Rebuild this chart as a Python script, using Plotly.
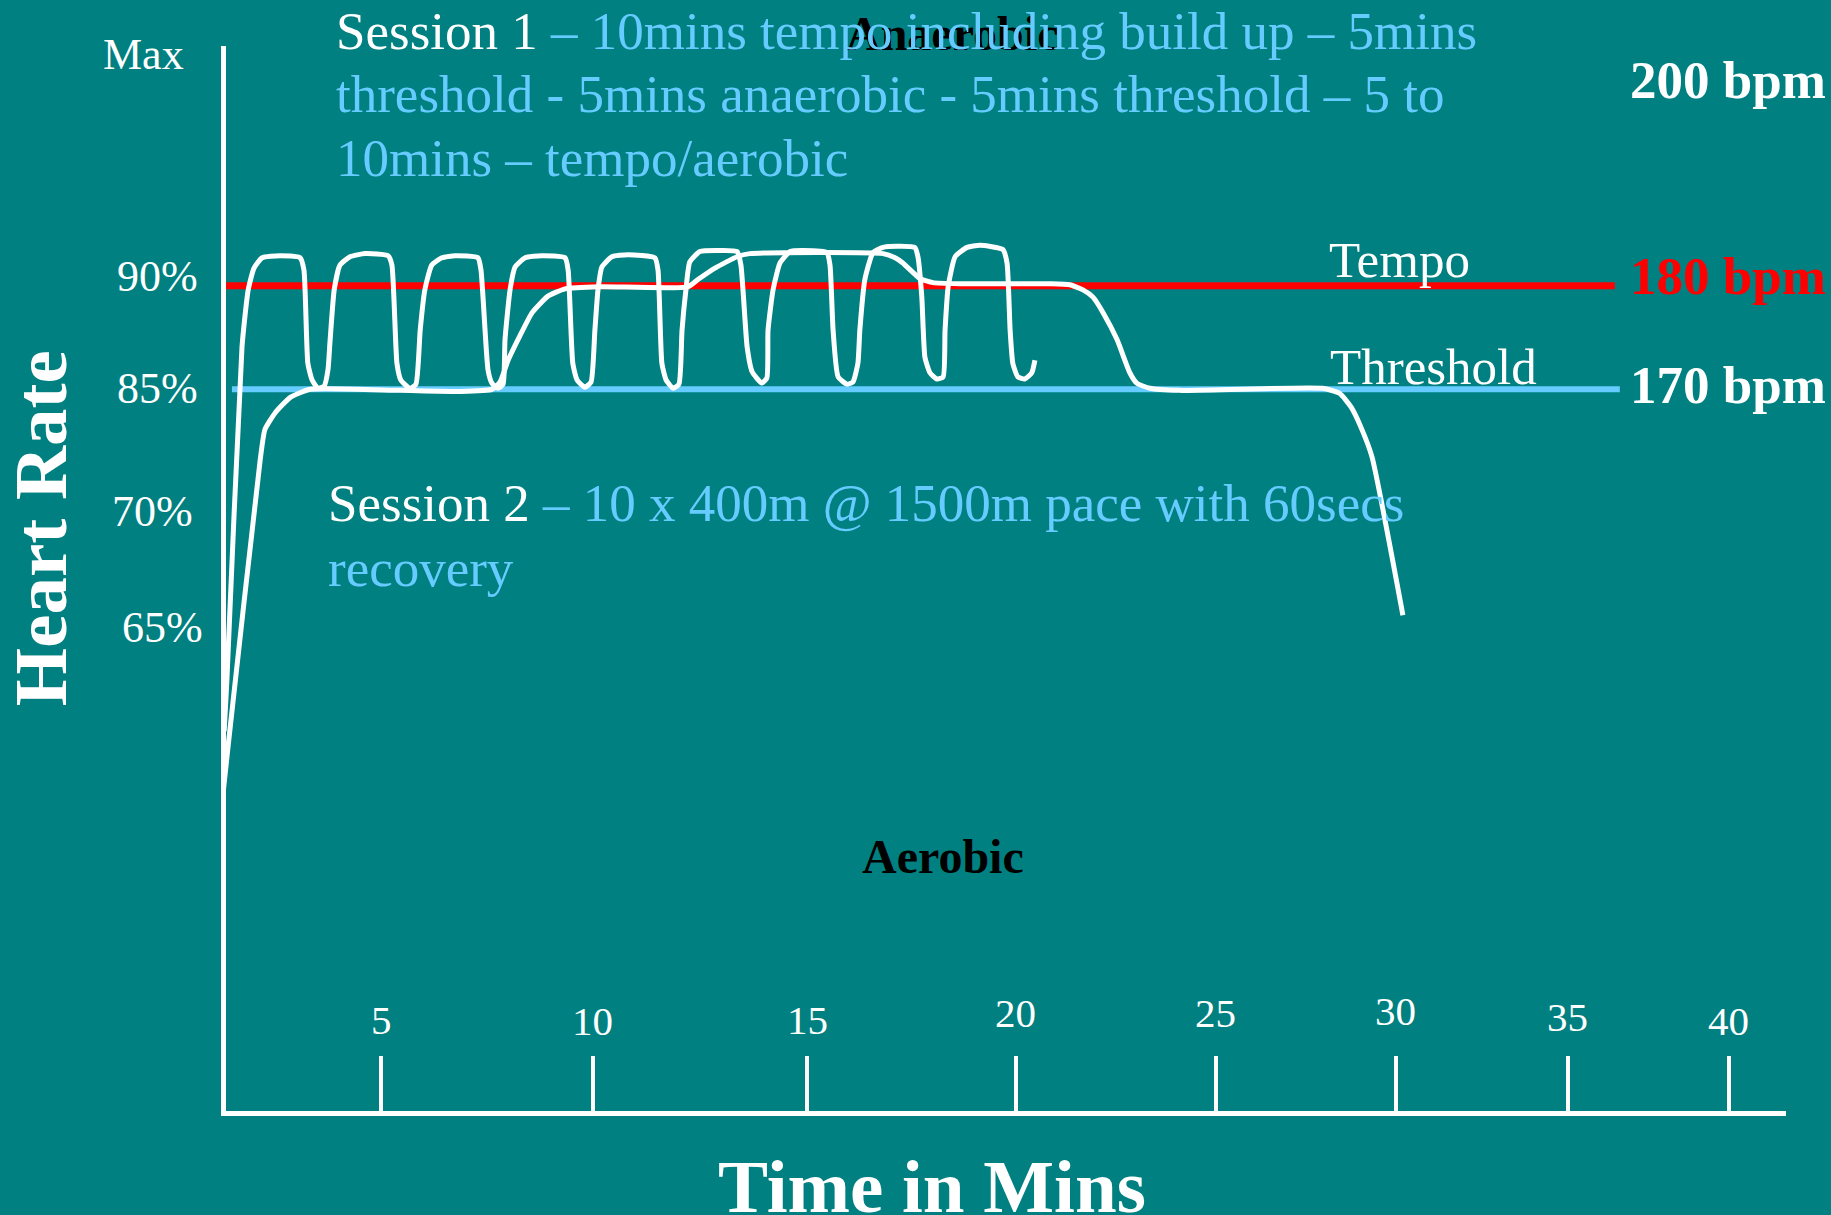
import plotly.graph_objects as go

# ---------------- data ----------------
# Session 2: 10 x 400m intervals (time in mins, heart rate in bpm)
session2_min = [0.03, 0.10, 0.49, 0.65, 0.80, 1.01, 1.47, 1.99, 2.09, 2.19, 2.30, 2.45, 2.61, 2.71,
                2.76, 2.87, 3.02, 3.28, 3.67, 4.26, 4.36, 4.49, 4.59, 4.83, 4.98, 5.09, 5.21, 5.39,
                5.65, 6.00, 6.58, 6.66, 6.84, 6.94, 7.10, 7.23, 7.28, 7.41, 7.54, 7.80, 8.23, 8.83,
                8.91, 9.03, 9.14, 9.34, 9.50, 9.60, 9.68, 9.78, 10.04, 10.45, 11.15, 11.23, 11.33,
                11.44, 11.62, 11.77, 11.85, 11.95, 12.05, 12.31, 12.75, 13.27, 13.37, 13.53, 13.66,
                13.91, 14.04, 14.07, 14.20, 14.38, 14.64, 14.97, 15.59, 15.67, 15.75, 15.88, 16.11,
                16.26, 16.39, 16.44, 16.57, 16.78, 17.04, 17.40, 17.86, 17.94, 18.04, 18.12, 18.25,
                18.43, 18.59, 18.64, 18.72, 18.90, 19.21, 19.54, 20.13, 20.24, 20.32, 20.39, 20.52,
                20.70, 20.88, 20.96]
session2_bpm = [137.0, 141.9, 174.1, 179.6, 181.7, 182.7, 182.9, 182.7, 181.5, 172.5, 170.9, 170.1, 170.3, 171.9,
                174.5, 179.6, 182.0, 182.8, 183.1, 182.9, 182.0, 172.5, 170.9, 170.1, 170.5, 175.7, 179.6, 182.0,
                182.7, 182.9, 182.7, 181.5, 171.9, 170.6, 170.1, 170.5, 174.8, 179.6, 181.8, 182.7, 182.9, 182.7,
                181.5, 172.5, 170.9, 170.2, 170.7, 175.7, 179.6, 181.8, 182.8, 183.0, 182.7, 181.5, 172.5,
                170.9, 170.1, 170.5, 175.7, 179.6, 182.3, 183.3, 183.4, 183.3, 182.0, 174.1, 171.7,
                170.6, 171.1, 175.7, 179.6, 182.2, 183.3, 183.4, 183.2, 182.0, 175.7, 171.2, 170.5,
                170.7, 172.5, 175.7, 180.6, 183.2, 183.7, 183.8, 183.7, 182.8, 178.9, 173.1, 171.6,
                171.0, 171.2, 175.7, 179.9, 182.8, 183.7, 183.9, 183.5, 182.2, 175.7, 172.5, 171.2,
                171.0, 171.6, 172.8]

# Session 1: tempo / threshold / anaerobic session
session1_min = [0.01, 0.13, 0.96, 1.08, 1.34, 1.73, 2.25, 4.57, 6.12, 6.94, 7.15, 7.36, 7.67, 7.98,
                8.39, 8.83, 9.73, 12.00, 12.26, 12.70, 13.27, 13.60, 17.04, 17.35, 17.55, 17.99, 18.33,
                19.02, 21.35, 21.86, 22.20, 22.46, 22.72, 23.08, 23.41, 23.59, 23.93, 24.70, 28.39,
                28.83, 29.12, 29.37, 29.66, 30.46]
session1_bpm = [131.3, 135.5, 163.2, 166.1, 167.7, 169.2, 170.0, 169.9, 169.8, 170.0, 170.7, 172.8, 175.2, 177.4,
                179.0, 179.7, 179.9, 179.9, 180.6, 181.7, 182.8, 183.1, 183.1, 182.7, 182.2, 180.7, 180.3,
                180.2, 180.2, 180.1, 179.6, 178.9, 177.4, 174.8, 171.6, 170.6, 170.1, 169.9, 170.1,
                169.6, 168.3, 166.4, 163.5, 148.2]

# zone lines
tempo_bpm = 180
threshold_bpm = 170
tempo_line_min = [0.08, 35.93]
threshold_line_min = [0.23, 36.06]

# x axis ticks (drawn positions) and labels
tick_pos = [4.09, 9.55, 15.08, 20.47, 25.63, 30.28, 34.72, 38.87]
tick_text = ["5", "10", "15", "20", "25", "30", "35", "40"]
tick_label_bpm = [109.1, 109.0, 109.1, 109.8, 109.8, 110.0, 109.4, 109.0]

# heart-rate percentage labels
pct_text = ["Max", "90%", "85%", "70%", "65%"]
pct_bpm = [202.3, 180.9, 170.1, 158.2, 147.0]
pct_x = [-0.0526, -0.0436, -0.0442, -0.0468, -0.0404]

# bpm labels on the right
bpm_text = ["200 bpm", "180 bpm", "170 bpm"]
bpm_vals = [199.9, 180.9, 170.4]
bpm_colors = ["white", "#FF0000", "white"]

LIGHT = "#66CCFF"
BG = "#008080"
SERIF = "Liberation Serif, Times New Roman, serif"

fig = go.Figure()

fig.add_trace(go.Scatter(x=tempo_line_min, y=[tempo_bpm] * 2, mode="lines",
                         line=dict(color="#FF0000", width=7), hoverinfo="skip"))
fig.add_trace(go.Scatter(x=threshold_line_min, y=[threshold_bpm] * 2, mode="lines",
                         line=dict(color=LIGHT, width=6), hoverinfo="skip"))
fig.add_trace(go.Scatter(x=session1_min, y=session1_bpm, mode="lines",
                         line=dict(color="white", width=5, shape="spline", smoothing=0.5),
                         hoverinfo="skip"))
fig.add_trace(go.Scatter(x=session2_min, y=session2_bpm, mode="lines",
                         line=dict(color="white", width=5, shape="spline", smoothing=0.5),
                         hoverinfo="skip"))

ann = []
# black zone labels (drawn first, underneath)
ann.append(dict(text="<b>Anaerobic</b>", x=18.82, xref="x", y=1.0122, yref="paper",
                xanchor="center", yanchor="middle", showarrow=False,
                font=dict(family=SERIF, size=48, color="black")))
ann.append(dict(text="<b>Aerobic</b>", x=18.59, xref="x", y=124.95, yref="y",
                xanchor="center", yanchor="middle", showarrow=False,
                font=dict(family=SERIF, size=48, color="black")))

# session 1 description
s1_lines = ["Session 1<span style='color:%s'> – 10mins tempo including build up – 5mins</span>" % LIGHT,
            "<span style='color:%s'>threshold - 5mins anaerobic - 5mins threshold – 5 to</span>" % LIGHT,
            "<span style='color:%s'>10mins – tempo/aerobic</span>" % LIGHT]
s1_y = [1.0141, 0.9545, 0.8953]
for t, yy in zip(s1_lines, s1_y):
    ann.append(dict(text=t, x=2.87, xref="x", y=yy, yref="paper", xanchor="left",
                    yanchor="middle", showarrow=False,
                    font=dict(family=SERIF, size=53, color="white")))

# session 2 description
s2_lines = ["Session 2<span style='color:%s'> – 10 x 400m @ 1500m pace with 60secs</span>" % LIGHT,
            "<span style='color:%s'>recovery</span>" % LIGHT]
s2_y = [158.98, 152.8]
for t, yy in zip(s2_lines, s2_y):
    ann.append(dict(text=t, x=2.66, xref="x", y=yy, yref="y", xanchor="left",
                    yanchor="middle", showarrow=False,
                    font=dict(family=SERIF, size=53, color="white")))

# zone names on lines
ann.append(dict(text="Tempo", x=28.50, xref="x", y=182.5, yref="y", xanchor="left",
                yanchor="middle", showarrow=False, font=dict(family=SERIF, size=51, color="white")))
ann.append(dict(text="Threshold", x=28.52, xref="x", y=172.2, yref="y", xanchor="left",
                yanchor="middle", showarrow=False, font=dict(family=SERIF, size=51, color="white")))

# bpm labels
for t, v, c in zip(bpm_text, bpm_vals, bpm_colors):
    ann.append(dict(text="<b>%s</b>" % t, x=0.899, xref="paper", y=v, yref="y", xanchor="left",
                    yanchor="middle", showarrow=False, font=dict(family=SERIF, size=53, color=c)))

# percentage labels
for t, v, xx in zip(pct_text, pct_bpm, pct_x):
    ann.append(dict(text=t, x=xx, xref="paper", y=v, yref="y", xanchor="center",
                    yanchor="middle", showarrow=False, font=dict(family=SERIF, size=44, color="white")))

# x tick labels
for p, t, v in zip(tick_pos, tick_text, tick_label_bpm):
    ann.append(dict(text=t, x=p, xref="x", y=v, yref="y", xanchor="center", yanchor="middle",
                    showarrow=False, font=dict(family=SERIF, size=41, color="white")))

# axis titles
ann.append(dict(text="<b>Heart Rate</b>", x=-0.1192, xref="paper", y=156.6, yref="y",
                textangle=-90, xanchor="center", yanchor="middle", showarrow=False,
                font=dict(family=SERIF, size=75, color="white")))
ann.append(dict(text="<b>Time in Mins</b>", x=0.4526, xref="paper", y=-0.0705, yref="paper",
                xanchor="center", yanchor="middle", showarrow=False,
                font=dict(family=SERIF, size=75, color="white")))

fig.update_layout(
    width=1831, height=1215,
    paper_bgcolor=BG, plot_bgcolor=BG,
    margin=dict(l=226, r=45, t=46, b=104),
    showlegend=False, hovermode=False,
    annotations=ann,
    xaxis=dict(range=[0.077, 40.35], showline=True, linecolor="white", linewidth=5,
               ticks="inside", tickvals=tick_pos, ticklen=55, tickwidth=4, tickcolor="white",
               showticklabels=False, showgrid=False, zeroline=False),
    yaxis=dict(range=[100.34, 203.14], showline=True, linecolor="white", linewidth=5,
               ticks="", showticklabels=False, showgrid=False, zeroline=False),
)

fig.write_html("out.html", config={"displayModeBar": False},
               post_script="document.body.style.margin='0';document.body.style.overflow='hidden';")
